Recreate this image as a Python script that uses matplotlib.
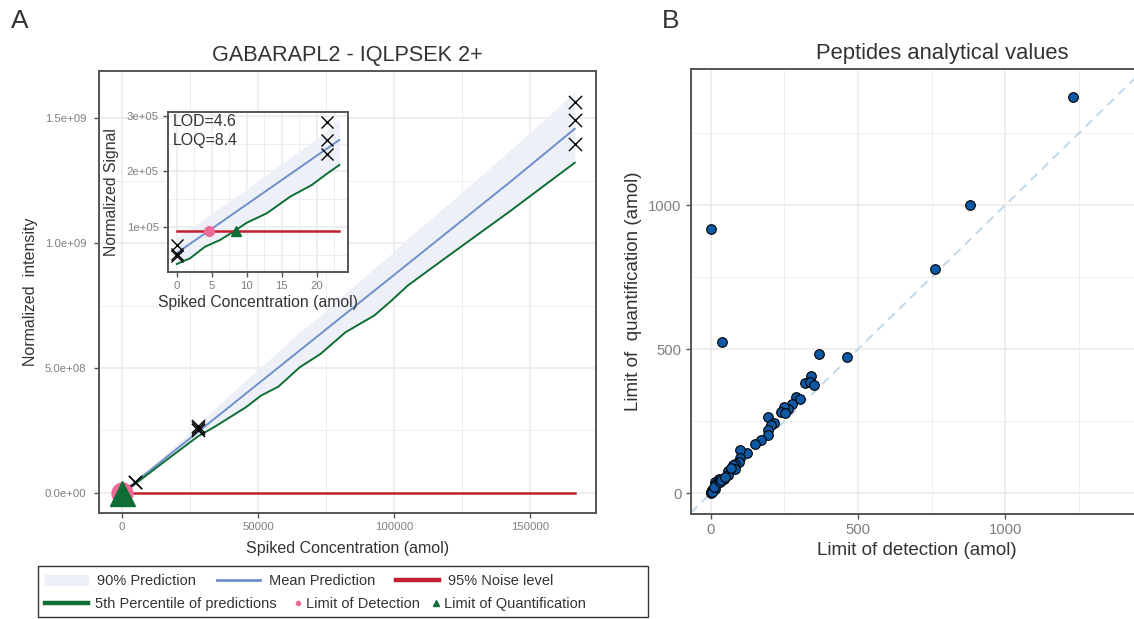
import matplotlib
matplotlib.use("Agg")
import matplotlib.pyplot as plt
from matplotlib.lines import Line2D
from matplotlib.patches import Patch, Rectangle
from matplotlib.ticker import MultipleLocator, FuncFormatter

plt.rcParams['font.family'] = ['Liberation Sans', 'DejaVu Sans']

# ---- panel A: calibration curve (amol vs normalized intensity) ----
conc = [0, 0, 0, 21.4, 21.4, 21.4, 128.6, 771.6, 4630, 4630,
        27778, 27778, 27778, 166667, 166667, 166667]
signal = [6.8e4, 5.2e4, 4.7e4, 2.90e5, 2.57e5, 2.32e5, 1.2e6, 6.8e6, 4.1e7, 4.4e7,
          2.51e8, 2.60e8, 2.67e8, 1.565e9, 1.494e9, 1.398e9]

pred_x = [0, 3100, 14400, 27800, 34200, 45500, 51100, 57500, 65300, 73000,
          82200, 92800, 99150, 105100, 119300, 143000, 166540]
pred_mean = [5.3e4, 2.71e7, 1.256e8, 2.425e8, 2.983e8, 3.968e8, 4.457e8, 5.015e8,
             5.695e8, 6.367e8, 7.168e8, 8.093e8, 8.646e8, 9.165e8, 1.0403e9,
             1.247e9, 1.458e9]
pred_p05 = [3.3e4, 2.1e7, 1.15e8, 2.25e8, 2.65e8, 3.42e8, 3.89e8, 4.25e8, 5.02e8,
            5.56e8, 6.43e8, 7.10e8, 7.70e8, 8.30e8, 9.43e8, 1.13e9, 1.322e9]
pred_p95 = [7.5e4, 3.0e7, 1.40e8, 2.72e8, 3.38e8, 4.50e8, 5.05e8, 5.65e8, 6.45e8,
            7.12e8, 8.00e8, 9.00e8, 9.58e8, 1.02e9, 1.15e9, 1.375e9, 1.605e9]

# zoomed curve for the inset
ins_x = [0, 1.9, 4.04, 6.19, 8.33, 10.0, 12.86, 16.2, 19.3, 21.2, 23.23]
ins_mean = [0.530e5, 0.697e5, 0.884e5, 1.073e5, 1.261e5, 1.407e5, 1.658e5,
            1.951e5, 2.223e5, 2.390e5, 2.568e5]
ins_p05 = [0.333e5, 0.436e5, 0.645e5, 0.766e5, 0.933e5, 1.077e5, 1.247e5,
           1.546e5, 1.757e5, 1.937e5, 2.117e5]
ins_p95 = [0.80e5, 0.97e5, 1.16e5, 1.35e5, 1.54e5, 1.69e5, 1.95e5, 2.25e5,
           2.53e5, 2.70e5, 2.96e5]

noise = 9.33e4
lod = 4.6
loq = 8.4

# ---- panel B: LOD vs LOQ for all peptides ----
lod_vals = [1230, 1, 881, 763, 37, 367, 463, 340, 321, 337, 350, 291, 303, 277,
            263, 248, 240, 251, 196, 215, 205, 196, 194, 171, 152, 123, 101, 101,
            97, 81, 74, 82, 57, 60, 45, 28, 16, 20, 13, 14, 2, 6, 0, 4, 11, 30,
            35, 47, 70]
loq_vals = [1376, 917, 1002, 780, 525, 485, 473, 406, 383, 387, 375, 334, 329, 311,
            294, 300, 282, 277, 265, 244, 236, 219, 204, 184, 172, 140, 149, 124,
            107, 103, 97, 86, 77, 62, 51, 48, 39, 35, 30, 16, 6, 11, 2, 3, 23, 40,
            45, 57, 89]

RIB = "#EEF0F7"
BLUE = "#6E8FCB"
GREEN = "#0F6E35"
RED = "#C41F2F"
PINK = "#F06A98"
GRID = "#EBEBEB"
FRAME = "#555555"
TICK = "#7F7F7F"
TXT = "#333333"

W, H = 1134, 619
fig = plt.figure(figsize=(W / 100, H / 100), dpi=100)


def style(ax, lab_size):
    for s in ax.spines.values():
        s.set_color(FRAME)
        s.set_linewidth(1.4)
    ax.set_facecolor("white")
    ax.grid(which="major", color=GRID, lw=1.2, zorder=0)
    ax.grid(which="minor", color=GRID, lw=0.6, zorder=0)
    ax.set_axisbelow(True)
    ax.tick_params(which="major", colors=FRAME, labelcolor=TICK, labelsize=lab_size,
                   length=3.5, width=1.0)
    ax.tick_params(which="minor", length=0)


# main calibration axes
ax = fig.add_axes([99 / W, 1 - 512.5 / H, 497 / W, 441.5 / H])
style(ax, 8.2)
ax.fill_between(pred_x, pred_p05, pred_p95, color=RIB, lw=0, zorder=1)
ax.plot(pred_x, pred_mean, color=BLUE, lw=1.4, zorder=2)
ax.plot(pred_x, pred_p05, color=GREEN, lw=1.4, zorder=2)
ax.plot([0, max(conc)], [noise, noise], color=RED, lw=1.8, zorder=2)
ax.scatter(conc, signal, marker="x", s=90, color="black", lw=1.0, zorder=3)
ax.plot([lod], [noise], "o", color=PINK, ms=15, zorder=4)
ax.plot([loq], [noise], "^", color=GREEN, ms=18, zorder=5)
ax.set_xlim(-8500, 174360)
ax.set_ylim(-7.93e7, 1.6895e9)
ax.xaxis.set_major_locator(MultipleLocator(50000))
ax.xaxis.set_minor_locator(MultipleLocator(25000))
ax.yaxis.set_major_locator(MultipleLocator(5e8))
ax.yaxis.set_minor_locator(MultipleLocator(2.5e8))
ax.yaxis.set_major_formatter(FuncFormatter(lambda v, p: f"{v:.1e}"))
ax.tick_params(axis="y", pad=5.5)
ax.tick_params(axis="x", pad=3)
ax.set_title("GABARAPL2 - IQLPSEK 2+", fontsize=15.6, color=TXT, pad=7)
ax.set_xlabel("Spiked Concentration (amol)", fontsize=11.5, color=TXT)
ax.xaxis.set_label_coords(0.5, (512.5 - 548) / 441.5)
ax.xaxis.label.set_va("center")
ax.set_ylabel("Normalized  intensity", fontsize=11.5, color=TXT)
ax.yaxis.set_label_coords((31 - 99) / 497, 0.5)
ax.yaxis.label.set_va("center")

# inset
axi = fig.add_axes([167.7 / W, 1 - 271.7 / H, 180.6 / W, 160 / H], zorder=5)
style(axi, 8.2)
axi.fill_between(ins_x, ins_p05, ins_p95, color=RIB, lw=0, zorder=1)
axi.plot(ins_x, ins_mean, color=BLUE, lw=1.4, zorder=2)
axi.plot(ins_x, ins_p05, color=GREEN, lw=1.4, zorder=2)
axi.plot([0, max(ins_x)], [noise, noise], color=RED, lw=1.8, zorder=2)
axi.scatter(conc, signal, marker="x", s=75, color="black", lw=1.0, zorder=3)
axi.plot([lod], [noise], "o", color=PINK, ms=7, zorder=4)
axi.plot([loq], [noise], "^", color=GREEN, ms=7, zorder=4)
axi.set_xlim(-1.29, 24.51)
axi.set_ylim(0.195e5, 3.077e5)
axi.xaxis.set_major_locator(MultipleLocator(5))
axi.xaxis.set_minor_locator(MultipleLocator(2.5))
axi.yaxis.set_major_locator(MultipleLocator(1e5))
axi.yaxis.set_minor_locator(MultipleLocator(0.5e5))
axi.yaxis.set_major_formatter(FuncFormatter(lambda v, p: f"{v:.0e}"))
axi.tick_params(axis="both", pad=3)
axi.text(0.03, 0.985, f"LOD={lod}\nLOQ={loq}", transform=axi.transAxes,
         ha="left", va="top", fontsize=11.4, color=TXT, linespacing=1.3, zorder=6)
axi.set_xlabel("Spiked Concentration (amol)", fontsize=11.3, color=TXT)
axi.xaxis.set_label_coords(0.5, (271.7 - 303) / 160)
axi.xaxis.label.set_va("center")
axi.set_ylabel("Normalized Signal", fontsize=11.3, color=TXT)
axi.yaxis.set_label_coords((111.5 - 167.7) / 180.6, 0.5)
axi.yaxis.label.set_va("center")

# panel B
axb = fig.add_axes([690.7 / W, 1 - 514.3 / H, 452.8 / W, 445.3 / H])
style(axb, 10.7)
axb.spines["right"].set_visible(False)
axb.axline((0, 0), slope=1, color="#BBD5EA", lw=1.3, ls=(0, (5, 3.5)), zorder=1)
axb.scatter(lod_vals, loq_vals, s=48, color="#0E59A3", edgecolor="black",
            lw=0.8, zorder=3)
axb.set_xlim(-68, 1470)
axb.set_ylim(-73, 1473)
axb.xaxis.set_major_locator(MultipleLocator(500))
axb.xaxis.set_minor_locator(MultipleLocator(250))
axb.yaxis.set_major_locator(MultipleLocator(500))
axb.yaxis.set_minor_locator(MultipleLocator(250))
axb.tick_params(axis="both", pad=3)
axb.set_xlabel("Limit of detection (amol)", fontsize=13.5, color=TXT)
axb.xaxis.set_label_coords((917 - 690.7) / 452.8, (514.3 - 550.7) / 445.3)
axb.xaxis.label.set_va("center")
axb.set_ylabel("Limit of  quantification (amol)", fontsize=13.5, color=TXT)
axb.yaxis.set_label_coords((634 - 690.7) / 452.8, 0.5)
axb.yaxis.label.set_va("center")
fig.text(941.8 / W, 1 - 53.3 / H, "Peptides analytical values", ha="center",
         va="center", fontsize=15.8, color=TXT)

# panel letters
fig.text(20 / W, 1 - 21 / H, "A", ha="center", va="center", fontsize=19, color=TXT)
fig.text(671 / W, 1 - 21 / H, "B", ha="center", va="center", fontsize=19, color=TXT)

# legend: two rows in one frame
fig.patches.append(Rectangle((38 / W, 1 - 617 / H), 610 / W, 51 / H,
                             transform=fig.transFigure, fill=False,
                             ec=TXT, lw=1.0))
row1 = [Patch(color=RIB), Line2D([], [], color=BLUE, lw=2),
        Line2D([], [], color=RED, lw=3.2)]
fig.legend(row1, ["90% Prediction", "Mean Prediction", "95% Noise level"],
           loc="center left", bbox_to_anchor=(45 / W, 1 - 581 / H), ncol=3,
           frameon=False, fontsize=10.5, handlelength=2.95, handletextpad=0.6,
           columnspacing=1.45, borderpad=0, borderaxespad=0, labelcolor=TXT)
fig.legend([Line2D([], [], color=GREEN, lw=3.2)], ["5th Percentile of predictions"],
           loc="center left", bbox_to_anchor=(45 / W, 1 - 604 / H),
           frameon=False, fontsize=10.5, handlelength=2.95, handletextpad=0.5,
           borderpad=0, borderaxespad=0, labelcolor=TXT)
row2 = [Line2D([], [], ls="", marker="o", color=PINK, ms=3),
        Line2D([], [], ls="", marker="^", color=GREEN, ms=4)]
fig.legend(row2, ["Limit of Detection", "Limit of Quantification"],
           loc="center left", bbox_to_anchor=(294 / W, 1 - 604 / H), ncol=2,
           frameon=False, fontsize=10.5, handlelength=0.6, handletextpad=0.25,
           columnspacing=0.8, borderpad=0, borderaxespad=0, labelcolor=TXT)

fig.savefig("out.png", dpi=100)
